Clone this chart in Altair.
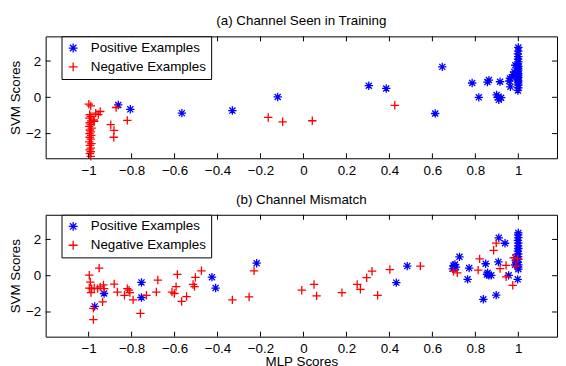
import altair as alt
import pandas as pd

FONT = "Liberation Sans"
FS = 13.5
STAR = "M-1,0L1,0M0,-1L0,1M-0.72,-0.72L0.72,0.72M-0.72,0.72L0.72,-0.72"
PLUS = "M-1,0L1,0M0,-1L0,1"

classes = ["Positive Examples", "Negative Examples"]
colors = ["#0000ff", "#ff0000"]
x_ticks = [-1, -0.8, -0.6, -0.4, -0.2, 0, 0.2, 0.4, 0.6, 0.8, 1]
y_ticks = [-2, 0, 2]

# ---- Panel (a): Channel Seen in Training ----
a_pos_x = [-0.862, -0.806, -0.566, -0.331, -0.12, 0.304, 0.385, 0.613, 0.646, 0.785,
           0.816, 0.856, 0.863, 0.915, 0.899, 0.909, 0.92, 0.905, 0.961, 0.963,
           0.958, 0.97, 0.975, 0.981, 0.986, 0.985,
           1.0, 1.0, 0.998, 1.0, 0.999, 1.0, 0.998, 1.0, 0.999, 1.0,
           0.998, 1.0, 0.999, 1.0, 0.998, 1.0, 0.999, 1.0, 1.0, 0.998]
a_pos_y = [-0.42, -0.66, -0.87, -0.73, 0.02, 0.64, 0.49, -0.89, 1.68, 0.79,
           0.0, 0.84, 0.95, 0.86, 0.13, -0.14, -0.02, 0.0, 1.04, 0.58,
           0.9, 1.1, 1.25, 1.4, 1.77, 1.2,
           2.75, 2.55, 2.4, 2.25, 2.1, 1.95, 1.85, 1.7, 1.6, 1.5,
           1.4, 1.3, 1.2, 1.1, 1.0, 0.9, 0.8, 0.68, 0.52, 0.38]
a_neg_x = [-0.999, -0.99, -0.967, -0.946, -0.955, -0.976, -0.974, -0.872, -0.82, -0.897,
           -0.882, -0.883, -0.164, -0.097, 0.041, 0.425,
           -0.995, -0.99, -0.997, -0.988, -0.995, -0.99, -0.997, -0.986, -0.994, -0.99,
           -0.996, -0.988, -0.995, -0.99, -0.997, -0.987, -0.994, -0.99, -0.996, -0.99,
           -0.994, -0.99]
a_neg_y = [-0.38, -0.47, -0.87, -0.78, -0.95, -1.25, -1.33, -0.56, -1.27, -1.51,
           -1.82, -2.2, -1.11, -1.35, -1.29, -0.44,
           -0.95, -1.05, -1.15, -1.3, -1.4, -1.5, -1.6, -1.7, -1.8, -1.9,
           -2.0, -2.1, -2.2, -2.3, -2.45, -2.55, -2.65, -2.8, -2.9, -3.0,
           -3.1, -3.25]

# ---- Panel (b): Channel Mismatch ----
b_pos_x = [-0.972, -0.928, -0.754, -0.754, -0.426, -0.409, -0.218, 0.432, 0.483, 0.698,
           0.705, 0.71, 0.695, 0.726, 0.764, 0.771, 0.837, 0.848, 0.854, 0.863,
           0.874, 0.857, 0.897, 0.909, 0.907, 0.938, 0.955, 0.997, 0.99, 0.985,
           0.988, 0.986,
           1.0, 0.999, 1.0, 0.998, 1.0, 0.999, 1.0, 0.998, 1.0, 0.999,
           1.0, 0.998, 1.0, 0.999, 1.0]
b_pos_y = [-1.69, -0.98, -0.37, -1.2, -0.08, -0.68, 0.69, -0.38, 0.53, 0.56,
           0.62, 0.47, 0.38, 1.04, -0.2, 0.42, -1.3, 0.66, 0.07, 0.02,
           0.02, 0.16, -1.07, 2.09, 0.76, 1.79, 0.02, -0.2, 0.71, 0.6,
           0.85, 1.0,
           2.36, 2.25, 2.1, 1.95, 1.8, 1.65, 1.5, 1.35, 1.2, 1.05,
           0.9, 0.75, 0.6, 0.47, 0.36]
b_neg_x = [-0.997, -0.992, -0.951, -0.997, -0.986, -0.974, -0.958, -0.946, -0.931, -0.928,
           -0.989, -0.978, -0.978, -0.935, -0.881, -0.866, -0.833, -0.82, -0.812, -0.808,
           -0.793, -0.759, -0.731, -0.678, -0.685, -0.612, -0.601, -0.593, -0.587, -0.567,
           -0.544, -0.514, -0.507, -0.503, -0.475, -0.331, -0.253, -0.23, -0.008, 0.049,
           0.061, 0.179, 0.25, 0.265, 0.294, 0.319, 0.345, 0.402, 0.544, 0.698,
           0.716, 0.82, 0.813, 0.885, 0.897, 0.915, 0.943, 0.943, 0.974, 0.978,
           0.997, 0.989]
b_neg_y = [0.03, -0.35, 0.42, -0.68, -0.71, -0.68, -0.71, -0.62, -0.51, -0.71,
           -0.93, -1.8, -2.42, -1.44, -0.46, -0.9, -1.08, -0.71, -0.8, -0.93,
           -1.33, -2.08, -1.08, -0.24, -0.9, -0.9, -0.98, -0.6, 0.07, -1.42,
           -1.15, -0.48, -0.6, -0.09, 0.27, -1.33, -1.17, 0.27, -0.8, -0.48,
           -1.11, -0.93, -0.48, -0.75, -0.11, 0.25, -1.08, 0.34, 0.53, 0.25,
           0.16, 0.93, 0.31, 1.4, 1.8, 0.39, 0.57, -0.06, -0.53, 0.98,
           0.93, 0.53]

W, H = 516, 123
XDOM = [-1.2, 1.18]
YDOM = [-3.36, 3.36]
TICK = 5


def panel(title, pos_x, pos_y, neg_x, neg_y, xtitle):
    df = pd.DataFrame({
        "mlp": pos_x + neg_x,
        "svm": pos_y + neg_y,
        "cls": [classes[0]] * len(pos_x) + [classes[1]] * len(neg_x),
    })
    xs = alt.Scale(domain=XDOM, nice=False, zero=False)
    ys = alt.Scale(domain=YDOM, nice=False, zero=False)
    xaxis = alt.Axis(title=xtitle, values=x_ticks, format="~g", ticks=False,
                     domain=False, grid=False, labelPadding=5, titlePadding=0)
    yaxis = alt.Axis(title="SVM Scores", values=y_ticks, format="~g", ticks=False,
                     domain=False, grid=False, labelPadding=5, titlePadding=3)
    legend = alt.Legend(title=None, orient="none", legendX=16, legendY=0,
                        strokeColor="black", fillColor="white", padding=5,
                        rowPadding=4, labelFontSize=FS, labelFont=FONT,
                        labelColor="black", symbolSize=81, symbolStrokeWidth=1.3,
                        labelOffset=11, cornerRadius=0)
    pts = alt.Chart(df).mark_point(filled=False, strokeWidth=1.3, size=72, opacity=1).encode(
        x=alt.X("mlp:Q", scale=xs, axis=xaxis),
        y=alt.Y("svm:Q", scale=ys, axis=yaxis),
        color=alt.Color("cls:N", scale=alt.Scale(domain=classes, range=colors), legend=legend),
        shape=alt.Shape("cls:N", scale=alt.Scale(domain=classes, range=[STAR, PLUS]), legend=legend),
    )
    xt = pd.DataFrame({"t": x_ticks})
    yt = pd.DataFrame({"t": y_ticks})
    tx = alt.X("t:Q", scale=xs, axis=xaxis)
    ty = alt.Y("t:Q", scale=ys, axis=yaxis)
    bottom = alt.Chart(xt).mark_rule(color="black", strokeWidth=1).encode(
        x=tx, y=alt.value(H), y2=alt.value(H - TICK))
    top = alt.Chart(xt).mark_rule(color="black", strokeWidth=1).encode(
        x=tx, y=alt.value(0), y2=alt.value(TICK))
    left = alt.Chart(yt).mark_rule(color="black", strokeWidth=1).encode(
        y=ty, x=alt.value(0), x2=alt.value(TICK))
    right = alt.Chart(yt).mark_rule(color="black", strokeWidth=1).encode(
        y=ty, x=alt.value(W), x2=alt.value(W - TICK))
    return alt.layer(pts, bottom, top, left, right).properties(
        width=W, height=H,
        title=alt.Title(title, fontSize=FS, fontWeight="normal", font=FONT,
                        color="black", offset=8, anchor="middle"),
    )


p1 = panel("(a) Channel Seen in Training", a_pos_x, a_pos_y, a_neg_x, a_neg_y, None)
p2 = panel("(b) Channel Mismatch", b_pos_x, b_pos_y, b_neg_x, b_neg_y, "MLP Scores")

chart = alt.vconcat(p1, p2, spacing=15).resolve_legend(
    color="independent", shape="independent"
).properties(
    padding={"left": 0, "top": 4, "right": 0, "bottom": 0}
).configure_view(
    stroke="black", strokeWidth=1
).configure_axis(
    labelFont=FONT, labelFontSize=FS, labelColor="black",
    titleFont=FONT, titleFontSize=FS, titleFontWeight="normal", titleColor="black",
)

chart.save("out.html", embed_options={"renderer": "svg", "actions": False})
